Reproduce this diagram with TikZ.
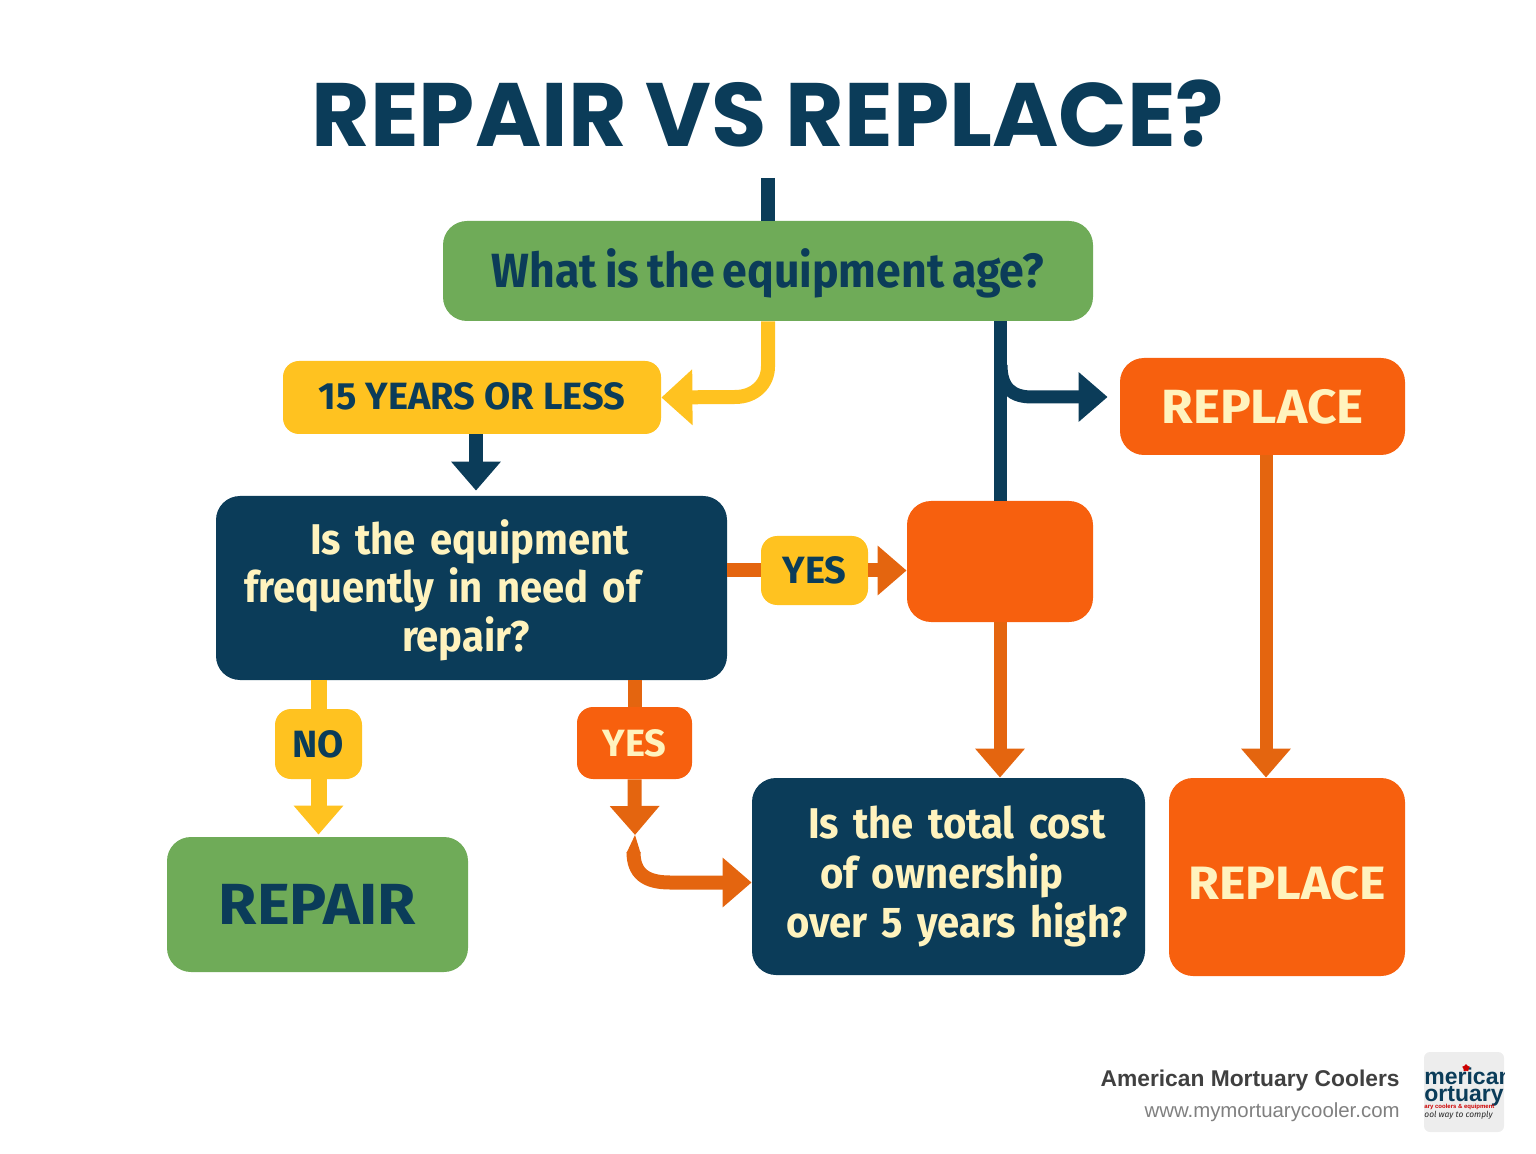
\documentclass[tikz,border=0pt]{standalone}
\usepackage{fontspec}
\setmainfont{Fira Sans}[BoldFont={Fira Sans Bold}]
\newfontfamily\titlefont{Poppins}[BoldFont={Poppins Bold}]
\newfontfamily\labelfont{Fira Sans}[BoldFont={Fira Sans Bold}, BoldFeatures={FakeStretch=1.07}]
\newfontfamily\bodyfont{Fira Sans}[BoldFont={Fira Sans Bold}, BoldFeatures={FakeStretch=0.93, WordSpace=0.75}]
\newfontfamily\footfont{Liberation Sans}
\usetikzlibrary{arrows.meta, shapes.geometric}
\definecolor{navy}{RGB}{11,60,89}
\definecolor{leaf}{RGB}{111,171,88}
\definecolor{sun}{RGB}{255,194,32}
\definecolor{flame}{RGB}{247,96,14}
\definecolor{rust}{RGB}{228,101,15}
\definecolor{cream}{RGB}{255,243,190}
\tikzset{
	box/.style={rounded corners=12pt, inner sep=0pt, align=center, font=\bfseries},
	tag/.style={box, rounded corners=8pt},
	link/.style={line width=7pt},
	tip/.style={line width=7pt, -{Triangle[length=14.5pt, width=24pt]}},
}

\begin{document}
\begin{tikzpicture}[x=0.5pt, y=-0.5pt]
	\useasboundingbox (0,0) rectangle (1536,1154);

	\node[text=navy, font=\titlefont\fontsize{45}{48}\selectfont\bfseries] (title) at (768,114) {REPAIR VS REPLACE?};

	\node[box, fill=leaf, text=navy, minimum width=325pt, minimum height=50pt, text height=17pt, text depth=0pt, font=\bodyfont\fontsize{24}{28}\selectfont\bfseries] (age) at (768,271) {What is the equipment age?};
	\node[tag, fill=sun, text=navy, minimum width=189pt, minimum height=36.5pt, text height=12.5pt, text depth=0pt, font=\fontsize{19}{22}\selectfont\bfseries] (yrs) at (472,397.5) {15 YEARS OR LESS};
	\node[box, fill=flame, text=cream, minimum width=142.5pt, minimum height=48.5pt, font=\labelfont\fontsize{24}{28}\selectfont\bfseries] (replacetop) at (1262.5,406.5) {REPLACE};

	\node[box, fill=navy, text=cream, minimum width=255.5pt, minimum height=92pt, text width=255.5pt, align=left, font=\bodyfont\fontsize{21.5}{24.3}\selectfont\bfseries] (freq) at (471.5,588)
		{\rule{0pt}{19.5pt}\hspace*{47pt}Is the equipment\\ \hspace*{14pt}frequently in need of\\ \hspace*{93pt}repair?};
	\node[box, fill=flame, minimum width=93pt, minimum height=60.5pt] (blank) at (1000,561.5) {};

	\node[tag, fill=sun, text=navy, minimum width=53.5pt, minimum height=34.5pt, font=\fontsize{19}{22}\selectfont\bfseries] (yesright) at (814.5,570.5) {YES};
	\node[tag, fill=sun, text=navy, minimum width=43.5pt, minimum height=35pt, font=\fontsize{19}{22}\selectfont\bfseries] (no) at (318.5,744) {NO};
	\node[tag, fill=flame, text=cream, minimum width=57.5pt, minimum height=36pt, font=\fontsize{19}{22}\selectfont\bfseries] (yesdown) at (634.5,743) {YES};

	\node[box, fill=leaf, text=navy, minimum width=150.5pt, minimum height=67.5pt, text height=19.5pt, text depth=0pt, font=\labelfont\fontsize{29}{34}\selectfont\bfseries] (repair) at (317.5,904.5) {REPAIR};
	\node[box, fill=navy, text=cream, minimum width=196.5pt, minimum height=98.5pt, text width=196.5pt, align=left, font=\bodyfont\fontsize{21.5}{24.8}\selectfont\bfseries] (cost) at (948.5,876.5)
		{\hspace*{28pt}Is the total cost\\ \hspace*{34pt}of ownership\\ \hspace*{17pt}over 5 years high?};
	\node[box, fill=flame, text=cream, minimum width=118pt, minimum height=99pt, text height=22pt, text depth=0pt, font=\labelfont\fontsize{23.4}{28}\selectfont\bfseries] (replacelow) at (1287,877) {REPLACE};

	% connectors
	\coordinate (start) at (768,178);
	\coordinate (bend) at (635,835);
	\coordinate (curl) at (633.5,852);
	\draw[link, navy] (start) -- (age.north);
	\draw[tip, sun, -{Triangle[length=15.5pt, width=27pt]}] (age.south) -- ++(0,45) .. controls +(0,17) and (755,397) .. (735,397) -- (yrs.east);
	\draw[link, navy, line width=6.5pt] (blank.north |- age.south) -- (blank.north);
	\draw[tip, navy, line width=6.5pt, shorten >=6pt] (1001,365) .. controls (1001,388) and (1012,397) .. (1032,397) -- ([yshift=4.75pt]replacetop.west);
	\draw[tip, navy, shorten >=2.5pt] ([xshift=2pt]yrs.south) -- ([xshift=2pt]yrs.south |- freq.north);
	\draw[link, rust] (yesright.west -| freq.east) -- (yesright.west);
	\draw[tip, rust] (yesright.east) -- (yesright.east -| blank.west);
	\draw[link, sun, line width=8pt] (no.north |- freq.south) -- (no.north);
	\draw[tip, sun, line width=8pt, shorten >=1pt] (no.south) -- (no.south |- repair.north);
	\draw[link, rust] (yesdown.north |- freq.south) -- (yesdown.north);
	\fill[rust] (bend) -- (626.5,853) -- (640.5,853) -- cycle;
	\draw[tip, rust] (curl) .. controls (633.5,873) and (645,882.5) .. (670,882.5) -- ([yshift=-3pt]cost.west);
	\draw[tip, rust] (yesdown.south) -- (bend);
	\draw[tip, rust, line width=6.5pt] (blank.south) -- (blank.south |- cost.north);
	\draw[tip, rust, line width=6.5pt] ([xshift=1.75pt]replacetop.south) -- ([xshift=1.75pt]replacetop.south |- replacelow.north);

	% footer
	\node[anchor=base east, inner sep=0pt, text=black!75, font=\footfont\fontsize{11.4}{14}\selectfont\bfseries] (brand) at (1400,1086) {American Mortuary Coolers};
	\node[anchor=base east, inner sep=0pt, text=black!50, font=\footfont\fontsize{10.2}{12}\selectfont] (site) at (1400,1117) {www.mymortuarycooler.com};

	\fill[rounded corners=3pt, fill=black!7] (1424,1052) rectangle (1504,1132);
	\begin{scope}
		\clip (1424,1052) rectangle (1504,1132);
		\node[anchor=base west, inner sep=0pt, text=navy, font=\footfont\fontsize{11.5}{12}\selectfont\bfseries] (logoa) at (1424,1084) {merican};
		\node[anchor=base west, inner sep=0pt, text=navy, text depth=0pt, font=\footfont\fontsize{11.5}{12}\selectfont\bfseries] (logob) at (1424,1101) {ortuary};
		\node[anchor=base west, inner sep=0pt, text=red!80!black, font=\footfont\fontsize{3}{4}\selectfont\bfseries] (logoc) at (1424,1108.5) {ary coolers \& equipment};
		\node[anchor=base west, inner sep=0pt, text=black!85, font=\fontsize{4.2}{4}\selectfont\itshape] (logod) at (1424,1117) {ool way to comply};
		\node[star, star points=5, fill=red!80!black, inner sep=0pt, minimum size=4pt] (logostar) at (1466,1068) {};
	\end{scope}
\end{tikzpicture}
\end{document}
